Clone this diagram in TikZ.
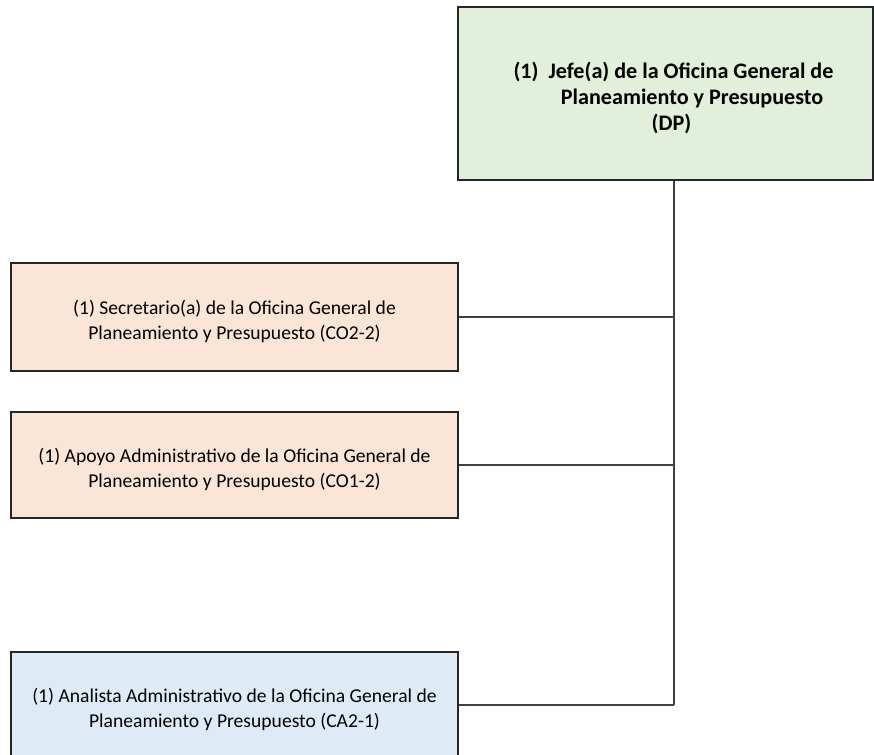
\documentclass[tikz,border=0pt]{standalone}
\usepackage{fontspec}
\setmainfont{Carlito}
\usepackage{tikz}

\definecolor{verdeJefe}{HTML}{E2EFDA}
\definecolor{salmon}{HTML}{FBE5D6}
\definecolor{celeste}{HTML}{DEEBF7}

% baja el texto dentro de la caja sin cambiar su tamano
\newcommand{\bajar}[2][3.4pt]{\raisebox{-#1}[\height][\depth]{\begin{tabular}{@{}c@{}}#2\end{tabular}}}

\tikzset{
	caja/.style = {draw = black!85, line width = 1.3pt, align = center, inner sep = 0pt,
		font = \fontsize{14.7}{18.75}\selectfont},
	cajaizq/.style = {caja, minimum width = 335.25pt, minimum height = 79.5pt},
	linea/.style = {draw = black!75, line width = 0.8pt}
}

\begin{document}
\begin{tikzpicture}[x = 0.75pt, y = -0.75pt]
	\clip (0,0) rectangle (874,755);
	\fill [white] (0,0) rectangle (874,755);
	% jefe
	\node [caja, fill = verdeJefe, minimum width = 311.25pt, minimum height = 129.75pt,
		font = \fontsize{16.6}{19.5}\selectfont\bfseries] (jefe) at (665.5,93.5)
		{\bajar[4.5pt]{\hspace*{12pt}(1)\ \ Jefe(a) de la Oficina General de\\ \hspace*{2.4em}Planeamiento y Presupuesto\\ \hspace*{9pt}(DP)}};
	% cargos
	\node [cajaizq, fill = salmon, minimum height = 81pt] (secre) at (234.5,317)
		{\bajar{(1) Secretario(a) de la Oficina General de\\ Planeamiento y Presupuesto (CO2-2)}};
	\node [cajaizq, fill = salmon] (apoyo) at (234.5,465)
		{\bajar{(1) Apoyo Administrativo de la Oficina General de\\ Planeamiento y Presupuesto (CO1-2)}};
	\node [cajaizq, fill = celeste] (analista) at (234.5,705)
		{\bajar{(1) Analista Administrativo de la Oficina General de\\ Planeamiento y Presupuesto (CA2-1)}};
	% conectores
	\coordinate (bus) at (674,705);
	\draw [linea] (jefe.south -| bus) -- (bus);
	\foreach \n in {secre,apoyo,analista}{
		\draw [linea] (\n.east) -- (\n.east -| bus);
	}
\end{tikzpicture}
\end{document}
